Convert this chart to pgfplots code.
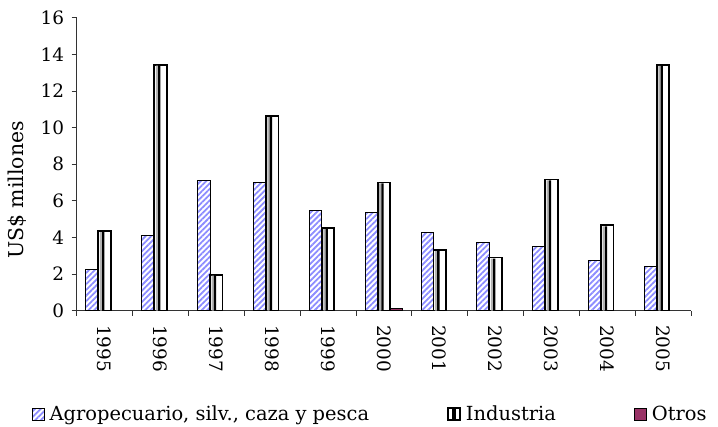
\documentclass[border=0pt]{standalone}
\usepackage{fontspec}
\setmainfont{DejaVu Serif}
\usepackage{pgfplots}
\usepackage{pgfplotstable}
\pgfplotsset{compat=1.18}
\usetikzlibrary{patterns.meta}
\definecolor{agro}{RGB}{140,140,255}
\definecolor{otros}{RGB}{153,51,102}

\pgfplotsset{
  boxlegend/.style={legend image code/.code={\draw[##1] (0bp,-6bp) rectangle (12bp,6bp);}},
  indlegend/.style={legend image code/.code={\draw[##1] (0bp,-6bp) rectangle (12bp,6bp);
     \fill[black] (4.5bp,-6bp) rectangle (7bp,6bp);}},
}

\pgfplotstableread{
x agro ind
0 2.24 4.34
1 4.08 13.43
2 7.13 1.97
3 7.02 10.62
4 5.47 4.50
5 5.37 7.00
6 4.25 3.30
7 3.74 2.90
8 3.50 7.16
9 2.72 4.66
10 2.39 13.42
}\datatable

\begin{document}
\begin{tikzpicture}
\path[use as bounding box] (-76.7bp,-116.3bp) rectangle (641.3bp,310.7bp);
\begin{axis}[
  scale only axis, width=614.3bp, height=293bp,
  anchor=south west, at={(0,0)},
  ymin=0, ymax=16, ytick={0,2,...,16},
  xmin=-0.5, xmax=10.5,
  xtick={0,...,10},
  xticklabels={1995,1996,1997,1998,1999,2000,2001,2002,2003,2004,2005},
  minor xtick={-0.5,0.5,...,10.5},
  major x tick style={draw=none},
  xticklabel style={rotate=-90, anchor=west},
  xticklabel shift=6bp,
  yticklabel shift=4bp,
  axis x line*=bottom, axis y line*=left,
  axis line style={black!80, line width=0.8bp, -},
  tick style={black!80, line width=0.8bp},
  tick align=outside,
  major tick length=5bp, minor tick length=5bp,
  tick label style={font=\fontsize{18.5}{20}\selectfont},
  /pgf/number format/assume math mode=true,
  ylabel={US\$ millones},
  ylabel style={font=\fontsize{20.5}{22}\selectfont, at={(axis description cs:-0.0964,0.412)}, anchor=center},
  ybar, bar width=12.5bp,
  legend columns=3,
  legend style={draw=none, fill=none, inner sep=0pt, outer sep=0pt,
    at={(axis description cs:-0.0733,-0.3526)}, anchor=west,
    font=\fontsize{19.5}{22}\selectfont,
    /tikz/every odd column/.append style={column sep=3bp},
    /tikz/every even column/.append style={column sep=76bp}},
  legend cell align=left,
]
\addplot[bar shift=-12.4bp, draw=black, line width=1bp,
  pattern={Lines[angle=45,distance=4bp,line width=1.8bp]}, pattern color=agro,
  boxlegend]
  table[x=x,y=agro]{\datatable};
\addlegendentry{Agropecuario, silv., caza y pesca}
\addplot[bar shift=0bp, draw=black, fill=white, line width=1.8bp, indlegend]
  table[x=x,y=ind]{\datatable};
\addlegendentry{Industria}
\addplot[bar shift=12.4bp, draw=black, fill=otros, line width=1bp, boxlegend]
  coordinates {(5,0.1)};
\addlegendentry{Otros}
\addplot[forget plot, bar shift=-3.6bp, bar width=2.2bp, draw=none, fill=gray!60]
  table[x=x,y expr=\thisrow{ind}-0.05]{\datatable};
\addplot[forget plot, bar shift=-1.3bp, bar width=2.3bp, draw=none, fill=black]
  table[x=x,y expr=\thisrow{ind}-0.05]{\datatable};
\end{axis}
\end{tikzpicture}
\end{document}
